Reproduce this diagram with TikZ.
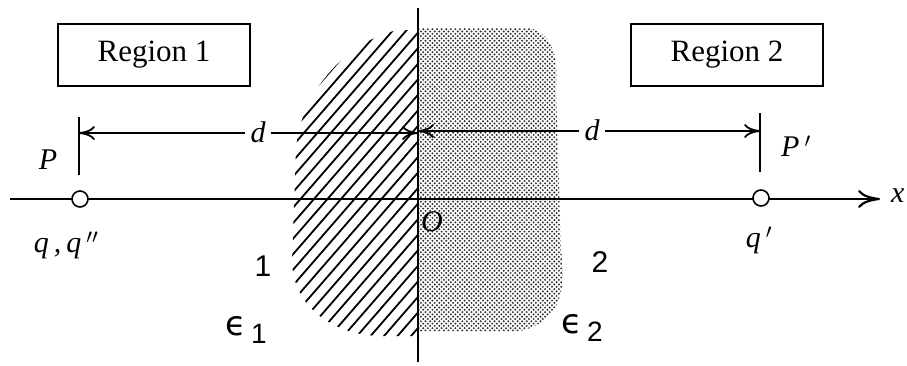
\documentclass[tikz,border=0pt]{standalone}
\usepackage{fontspec}
\newfontfamily\timesf{Liberation Serif}
\newfontfamily\sansf{Liberation Sans}
\newfontfamily\dejavf{DejaVu Sans}
\usetikzlibrary{arrows.meta,patterns}
\pgfdeclarepatternformonly{stipple}{\pgfqpoint{-1.5pt}{-1.5pt}}{\pgfqpoint{4pt}{4pt}}{\pgfqpoint{4.6pt}{4.6pt}}{%
  \pgfpathcircle{\pgfqpoint{0pt}{0pt}}{1.1pt}%
  \pgfpathcircle{\pgfqpoint{2.3pt}{2.3pt}}{1.1pt}%
  \pgfusepath{fill}}
\begin{document}
\begin{tikzpicture}[x=1pt,y=-1pt,
  box/.style={draw,line width=1.8pt,minimum width=192pt,minimum height=62pt,inner sep=0pt,font=\timesf\fontsize{31}{34}\selectfont},
  lab/.style={inner sep=0pt,font=\timesf\itshape\fontsize{30}{34}\selectfont},
  num/.style={inner sep=0pt,font=\sansf\fontsize{30}{34}\selectfont},
  eps/.style={inner sep=0pt,font=\sansf\fontsize{28}{30}\selectfont},
  axis line/.style={line width=2.2pt},
  dimline/.style={line width=1.8pt},
  dimtip/.style={-{To[length=16pt,width=14pt]}},
  charge/.style={circle,draw,fill=white,line width=1.6pt,minimum size=16pt,inner sep=0pt},
  hatchline/.style={line width=1.8pt}]
\useasboundingbox (0,0) rectangle (907,365);
% stippled region 2
\fill[pattern=stipple,pattern color=black!80]
  (418,28) -- (530,28) .. controls (555,35) and (558,60) .. (556,90)
  -- (561,250) .. controls (567,290) and (560,322) .. (520,331) -- (418,331) -- cycle;
% hatched region 1
\begin{scope}
  \clip (418,30) -- (398,30) .. controls (350,40) and (300,90) .. (296,150)
    -- (292,262) .. controls (294,312) and (340,336) .. (382,336) -- (418,336) -- cycle;
  \foreach \i in {0,...,40} {
    \draw[hatchline] (\i*13.5-10,370) -- ++(330,-380);
  }
\end{scope}
% axes
\coordinate (yb) at (418,362);
\coordinate (yt) at (418,8);
\coordinate (xl) at (10,199);
\coordinate (xr) at (880,199);
\draw[axis line] (yb) -- (yt);
\draw[axis line,-{To[length=22pt,width=18pt]}] (xl) -- (xr);
\node[lab,anchor=west] (xlab) at (891,196) {x};
% charges
\node[charge] (qL) at (80,199) {};
\node[charge] (qR) at (761,198) {};
% ticks
\coordinate (tLt) at (79,117);
\coordinate (tLb) at (79,175);
\coordinate (tRt) at (760,113);
\coordinate (tRb) at (760,172);
\draw[line width=1.8pt] (tLt) -- (tLb);
\draw[line width=1.8pt] (tRt) -- (tRb);
% dimension lines
\node[lab] (dL) at (258,132) {d};
\node[lab] (dR) at (592,130) {d};
\coordinate (tLm) at (79,133);
\coordinate (oL) at (418,133);
\coordinate (oR) at (418,131);
\coordinate (tRm) at (760,131);
\draw[dimline,dimtip] (dL.west |- tLm) ++(-5,0) -- (tLm);
\draw[dimline,dimtip] (dL.east |- oL) ++(5,0) -- (oL);
\draw[dimline,dimtip] (dR.west |- oR) ++(-5,0) -- (oR);
\draw[dimline,dimtip] (dR.east |- tRm) ++(5,0) -- (tRm);
% labels
\node[lab] (P) at (48,160) {P};
\node[lab] (Pp) at (796,146) {P\,$'$};
\node[lab] (qq) at (66,245) {q\,,\,q\,$''$};
\node[lab] (qp) at (759,240) {q\,$'$};
\node[lab] (O) at (432,222) {O};
\node[num] (one) at (263,266) {1};
\node[num] (two) at (600,262) {2};
\node[eps] (e1) at (246,330) {{\dejavf\fontsize{34}{36}\selectfont ϵ}\,\raisebox{-8pt}{1}};
\node[eps] (e2) at (582,328) {{\dejavf\fontsize{34}{36}\selectfont ϵ}\,\raisebox{-8pt}{2}};
% region boxes
\node[box] (r1) at (154,55) {Region 1};
\node[box] (r2) at (727,55) {Region 2};
\end{tikzpicture}
\end{document}
